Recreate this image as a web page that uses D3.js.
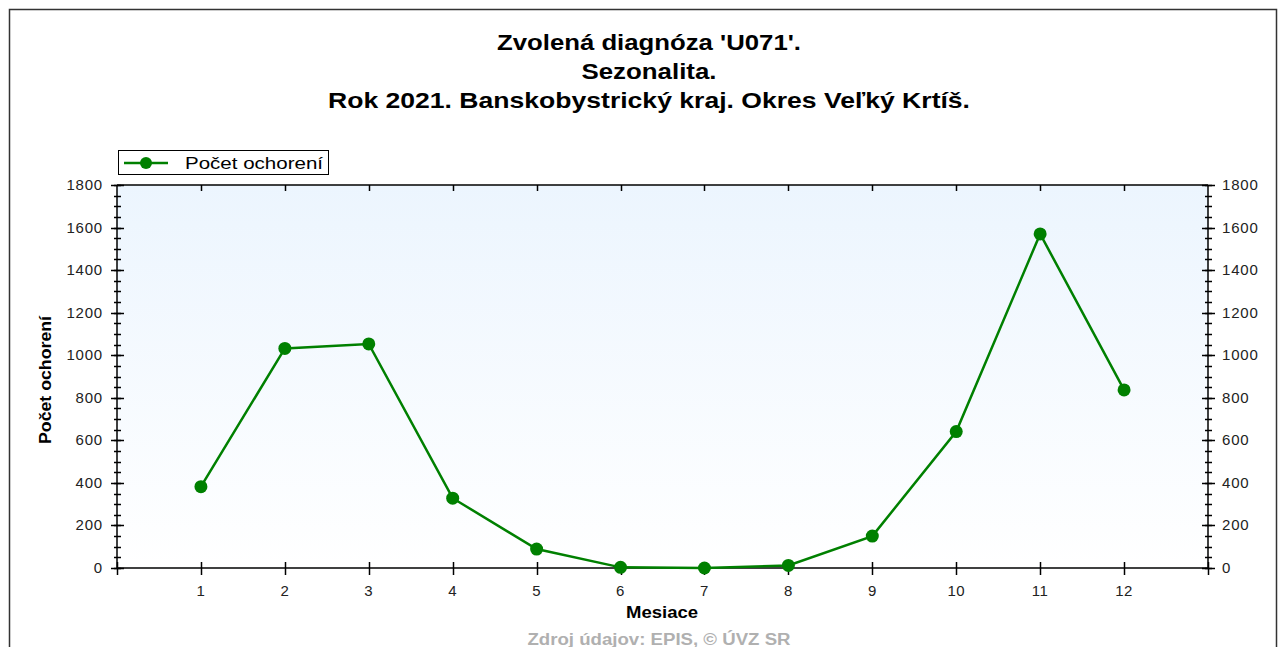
<!DOCTYPE html>
<html><head><meta charset="utf-8">
<script src="https://cdn.jsdelivr.net/npm/d3@7"></script>
<style>body{margin:0;background:#fff;}svg{display:block;font-family:"Liberation Sans",Arial,sans-serif;}</style>
</head><body><svg id="c" width="1282" height="647"></svg>
<script>
const months = [1,2,3,4,5,6,7,8,9,10,11,12];
const values = [382,1032,1053,328,89,3,0,12,150,641,1570,837];
const yTicks = [0,200,400,600,800,1000,1200,1400,1600,1800];
const titleLines = ["Zvolená diagnóza 'U071'.","Sezonalita.","Rok 2021. Banskobystrický kraj. Okres Veľký Krtíš."];
const titleWidths = [304,135,642];
const seriesName = "Počet ochorení";
const xLabel = "Mesiace";
const yLabel = "Počet ochorení";
const footer = "Zdroj údajov: EPIS, © ÚVZ SR";

const svg = d3.select("#c");
const L=117, R=1208, T=185, B=568;
const x = d3.scaleLinear().domain([0,13]).range([L,R]);
const y = d3.scaleLinear().domain([0,1800]).range([B,T]);

// outer frame
svg.append("path").attr("d","M9.5,647 V9.5 H1276.5 V647").attr("fill","none").attr("stroke","#333").attr("stroke-width",1.5);

// titles
svg.selectAll(".t").data(titleLines).enter().append("text")
  .attr("x",649).attr("y",(d,i)=>50+i*29).attr("text-anchor","middle")
  .attr("font-size",22).attr("font-weight","bold").attr("fill","#000")
  .attr("textLength",(d,i)=>titleWidths[i]).attr("lengthAdjust","spacingAndGlyphs").text(d=>d);

// background gradient
const defs = svg.append("defs");
const g = defs.append("linearGradient").attr("id","bg").attr("x1",0).attr("y1",0).attr("x2",0).attr("y2",1);
g.append("stop").attr("offset","0%").attr("stop-color","#ecf5fe");
g.append("stop").attr("offset","100%").attr("stop-color","#ffffff");
svg.append("rect").attr("x",L).attr("y",T).attr("width",R-L).attr("height",B-T).attr("fill","url(#bg)");

// axes
const minor = d3.range(0,1801,50);
function yAxisTicks(xpos){
  const gA = svg.append("g");
  gA.append("line").attr("x1",xpos).attr("x2",xpos).attr("y1",T).attr("y2",B).attr("stroke","#000").attr("stroke-width",1.5);
  gA.selectAll(".mn").data(minor).enter().append("line")
    .attr("x1",xpos-3).attr("x2",xpos+4).attr("y1",d=>Math.round(y(d))+0.5).attr("y2",d=>Math.round(y(d))+0.5)
    .attr("stroke","#000").attr("stroke-width",1.5);
  gA.selectAll(".mj").data(yTicks).enter().append("line")
    .attr("x1",xpos-6).attr("x2",xpos+7).attr("y1",d=>Math.round(y(d))+0.5).attr("y2",d=>Math.round(y(d))+0.5)
    .attr("stroke","#000").attr("stroke-width",1.5);
}
yAxisTicks(L); yAxisTicks(R);
svg.selectAll(".yl").data(yTicks).enter().append("text")
  .attr("x",103).attr("y",d=>y(d)+5).attr("text-anchor","end").attr("font-size",15).attr("letter-spacing",0.8).attr("fill","#222").text(d=>d);
svg.selectAll(".yr").data(yTicks).enter().append("text")
  .attr("x",1222).attr("y",d=>y(d)+5).attr("text-anchor","start").attr("font-size",15).attr("letter-spacing",0.8).attr("fill","#222").text(d=>d);

// top axis
svg.append("line").attr("x1",L).attr("x2",R).attr("y1",T).attr("y2",T).attr("stroke","#000").attr("stroke-width",1.5);
svg.selectAll(".tt").data(months).enter().append("line")
  .attr("x1",d=>Math.round(x(d))+0.5).attr("x2",d=>Math.round(x(d))+0.5).attr("y1",T).attr("y2",T+6)
  .attr("stroke","#000").attr("stroke-width",1.5);
// bottom axis
svg.append("line").attr("x1",L).attr("x2",R).attr("y1",B).attr("y2",B).attr("stroke","#000").attr("stroke-width",1.5);
svg.selectAll(".bt").data([0].concat(months,[13])).enter().append("line")
  .attr("x1",d=>Math.round(x(d))+0.5).attr("x2",d=>Math.round(x(d))+0.5).attr("y1",B-6).attr("y2",B+7)
  .attr("stroke","#000").attr("stroke-width",1.5);
svg.selectAll(".xl").data(months).enter().append("text")
  .attr("x",d=>x(d)).attr("y",596).attr("text-anchor","middle").attr("font-size",15).attr("letter-spacing",0.5).attr("fill","#222").text(d=>d);

// axis titles
svg.append("text").attr("x",662).attr("y",618).attr("text-anchor","middle").attr("font-size",16).attr("font-weight","bold")
  .attr("textLength",72).attr("lengthAdjust","spacingAndGlyphs").text(xLabel);
svg.append("text").attr("transform","translate(51,380) rotate(-90)").attr("text-anchor","middle").attr("font-size",16).attr("font-weight","bold")
  .attr("textLength",128).attr("lengthAdjust","spacingAndGlyphs").text(yLabel);

// footer
svg.append("text").attr("x",659).attr("y",645).attr("text-anchor","middle").attr("font-size",16).attr("font-weight","bold").attr("fill","#b0b0b0")
  .attr("textLength",263).attr("lengthAdjust","spacingAndGlyphs").text(footer);

// line
const line = d3.line().x((d,i)=>x(months[i])).y(d=>y(d));
svg.append("path").datum(values).attr("d",line).attr("fill","none").attr("stroke","#008000").attr("stroke-width",2.5);
svg.selectAll(".pt").data(values).enter().append("circle")
  .attr("cx",(d,i)=>x(months[i])).attr("cy",d=>y(d)).attr("r",6.5).attr("fill","#008000");

// legend
svg.append("rect").attr("x",118.5).attr("y",150.5).attr("width",210).attr("height",24).attr("fill","#fff").attr("stroke","#000").attr("stroke-width",1);
svg.append("line").attr("x1",124).attr("x2",168).attr("y1",163).attr("y2",163).attr("stroke","#008000").attr("stroke-width",2.5);
svg.append("circle").attr("cx",146).attr("cy",163).attr("r",6).attr("fill","#008000");
svg.append("text").attr("x",185).attr("y",169).attr("font-size",17).attr("fill","#000")
  .attr("textLength",138).attr("lengthAdjust","spacingAndGlyphs").text(seriesName);
</script></body></html>
